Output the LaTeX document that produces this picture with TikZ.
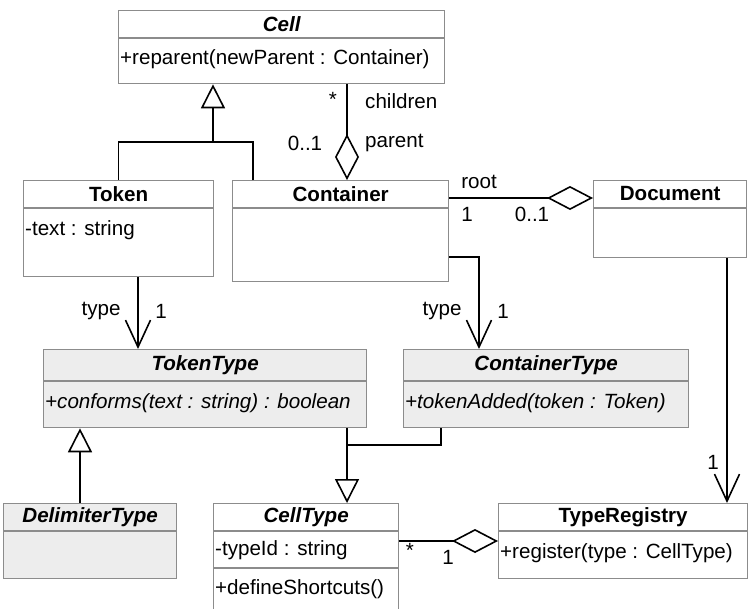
\documentclass[tikz,border=0pt]{standalone}
\usepackage{fontspec}
\setmainfont{Liberation Sans}
\usetikzlibrary{arrows.meta}

\begin{document}
\begin{tikzpicture}
                [
                    x=1pt, y=-1pt,
                    font=\fontsize{20.6}{24}\selectfont,
                    umlclass/.style = {rectangle, draw=black!45, line width=1.3pt, fill=white, anchor=north west, inner sep=0pt},
                    abstractclass/.style = {umlclass, fill=black!7},
                    divider/.style = {draw=black!45, line width=1.3pt},
                    classname/.style = {font=\fontsize{20.6}{24}\selectfont\bfseries},
                    absname/.style = {font=\fontsize{20.6}{24}\selectfont\bfseries\itshape},
                    member/.style = {anchor=west, inner sep=2pt},
                    role/.style = {inner sep=1pt},
                    conn/.style = {line width=1.6pt},
                    inherit/.style = {conn, -{Triangle[open, length=24pt, width=24pt]}},
                    navig/.style = {conn, -{Straight Barb[length=27pt, width=25pt]}},
                    aggr/.style = {conn, {Diamond[open, length=46pt, width=24pt]}-}
                ]

                \fill[white] (0,0) rectangle (749,608);
                \useasboundingbox (0,0) rectangle (749,608);

                % Klassen
                \node (cell) [umlclass, minimum width=326pt, minimum height=73pt] at (118,10) {};
                \node (token) [umlclass, minimum width=190pt, minimum height=96pt] at (23,180) {};
                \node (container) [umlclass, minimum width=216pt, minimum height=101pt] at (232,180) {};
                \node (document) [umlclass, minimum width=153pt, minimum height=77pt] at (593,180) {};
                \node (tokentype) [abstractclass, minimum width=323pt, minimum height=78pt] at (43,349) {};
                \node (containertype) [abstractclass, minimum width=285pt, minimum height=78pt] at (403,349) {};
                \node (delimitertype) [abstractclass, minimum width=173pt, minimum height=75pt] at (3,503) {};
                \node (celltype) [umlclass, minimum width=185pt, minimum height=115pt] at (213,503) {};
                \node (typeregistry) [umlclass, minimum width=249pt, minimum height=75pt] at (498,503) {};

                \draw[divider] (cell.west |- 0,38) -- (cell.east |- 0,38);
                \draw[divider] (token.west |- 0,208) -- (token.east |- 0,208);
                \draw[divider] (container.west |- 0,208) -- (container.east |- 0,208);
                \draw[divider] (document.west |- 0,208) -- (document.east |- 0,208);
                \draw[divider] (tokentype.west |- 0,381) -- (tokentype.east |- 0,381);
                \draw[divider] (containertype.west |- 0,381) -- (containertype.east |- 0,381);
                \draw[divider] (delimitertype.west |- 0,531) -- (delimitertype.east |- 0,531);
                \draw[divider] (celltype.west |- 0,531) -- (celltype.east |- 0,531);
                \draw[divider] (celltype.west |- 0,568) -- (celltype.east |- 0,568);
                \draw[divider] (typeregistry.west |- 0,531) -- (typeregistry.east |- 0,531);

                \node (cell-name) [absname] at (cell.north |- 0,24) {Cell};
                \node (token-name) [classname] at (token.north |- 0,194) {Token};
                \node (container-name) [classname] at (container.north |- 0,194) {Container};
                \node (document-name) [classname] at (document.north |- 0,194) {Document};
                \node (tokentype-name) [absname] at (tokentype.north |- 0,365) {TokenType};
                \node (containertype-name) [absname] at (containertype.north |- 0,365) {ContainerType};
                \node (delimitertype-name) [absname] at (delimitertype.north |- 0,517) {DelimiterType};
                \node (celltype-name) [absname] at (celltype.north |- 0,517) {CellType};
                \node (typeregistry-name) [classname] at (typeregistry.north |- 0,517) {TypeRegistry};

                \node (cell-op) [member] at (cell.west |- 0,59) {+reparent(newParent : Container)};
                \node (token-attr) [member] at (token.west |- 0,230) {-text : string};
                \node (tokentype-op) [member, font=\fontsize{20.6}{24}\selectfont\itshape] at (tokentype.west |- 0,403) {+conforms(text : string) : boolean};
                \node (containertype-op) [member, font=\fontsize{20.6}{24}\selectfont\itshape] at (containertype.west |- 0,403) {+tokenAdded(token : Token)};
                \node (celltype-attr) [member] at (celltype.west |- 0,550) {-typeId : string};
                \node (celltype-op) [member] at (celltype.west |- 0,589) {+defineShortcuts()};
                \node (typeregistry-op) [member] at (typeregistry.west |- 0,553) {+register(type : CellType)};

                % Vererbung
                \coordinate (cellfork) at (213,142);
                \draw[conn] (token.north) |- (cellfork);
                \draw[conn] ([xshift=21pt]container.north west) |- (cellfork);
                \draw[inherit] (cellfork) -- (cellfork |- cell.south);

                \draw[inherit] (delimitertype.north -| 80,0) -- (tokentype.south -| 80,0);

                \coordinate (typefork) at (347,445);
                \draw[conn] (containertype.south -| 441,0) |- (typefork);
                \draw[inherit] (tokentype.south -| typefork) -- (celltype.north -| typefork);

                % Assoziationen
                \draw[aggr] (container.north -| 347,0) -- (cell.south -| 347,0);
                \draw[aggr] (document.west |- 0,198) -- (container.east |- 0,198);
                \draw[aggr] (typeregistry.west |- 0,541) -- (celltype.east |- 0,541);
                \draw[navig] (token.south -| 138,0) -- (tokentype.north -| 138,0);
                \draw[navig] (container.east |- 0,257) -| (containertype.north -| 479,0);
                \draw[navig] (document.south -| 727,0) -- (typeregistry.north -| 727,0);

                \node (children-mult) [role] at (333,99) {*};
                \node (children-role) [role, anchor=west] at (364,101) {children};
                \node (parent-mult) [role] at (305,143) {0..1};
                \node (parent-role) [role, anchor=west] at (364,143) {parent};
                \node (root-role) [role] at (479,182) {root};
                \node (root-mult) [role] at (467,214) {1};
                \node (doc-mult) [role] at (532,214) {0..1};
                \node (ttype-role) [role] at (101,311) {type};
                \node (ttype-mult) [role] at (161,311) {1};
                \node (ctype-role) [role] at (442,311) {type};
                \node (ctype-mult) [role] at (503,311) {1};
                \node (reg-mult) [role] at (713,462) {1};
                \node (types-mult) [role] at (410,550) {*};
                \node (registry-mult) [role] at (448,557) {1};

            \end{tikzpicture}
\end{document}
